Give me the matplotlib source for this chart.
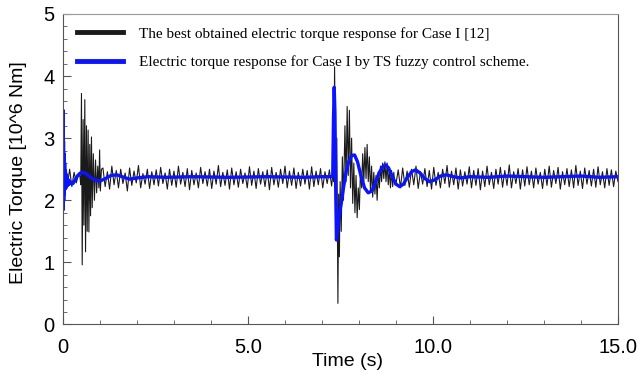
import numpy as np
import matplotlib.pyplot as plt
from matplotlib.ticker import MultipleLocator, FixedLocator

plt.rcParams.update({
    "font.family": "Liberation Sans",
    "font.size": 12,
})

# --- black: best obtained response [12] ---
step = 0.06
ripple_a = [2.35, 2.45, 2.25, 2.50, 2.22, 2.45, 2.28, 2.42]  # 0.00 .. 0.42

trans1_t = [0.46, 0.48, 0.50, 0.52, 0.545, 0.565, 0.59, 0.61, 0.635, 0.655,
            0.68, 0.70, 0.725, 0.745, 0.77, 0.79, 0.82, 0.85, 0.88, 0.91,
            0.94, 0.97, 0.99, 1.01, 1.04]
trans1_v = [2.38, 2.25, 3.72, 0.96, 3.30, 1.60, 3.62, 1.17, 3.20, 1.50,
            3.13, 1.49, 2.90, 1.75, 3.02, 1.88, 2.75, 2.00, 2.65, 2.12,
            2.55, 2.20, 2.81, 2.15, 2.50]

ripple_b = [  # 1.08 .. 7.26
    2.52, 2.22, 2.46, 2.18, 2.55, 2.25, 2.48, 2.20,
    2.50, 2.27, 2.44, 2.15, 2.52, 2.24, 2.47, 2.28,
    2.56, 2.20, 2.43, 2.26, 2.50, 2.19, 2.46, 2.25,
    2.49, 2.23, 2.53, 2.27, 2.44, 2.18, 2.50, 2.24,
    2.47, 2.21, 2.55, 2.26, 2.45, 2.22, 2.51, 2.17,
    2.48, 2.25, 2.44, 2.20, 2.53, 2.27, 2.46, 2.23,
    2.50, 2.19, 2.47, 2.26, 2.56, 2.22, 2.45, 2.24,
    2.49, 2.18, 2.52, 2.25, 2.46, 2.21, 2.50, 2.27,
    2.44, 2.20, 2.54, 2.24, 2.47, 2.19, 2.51, 2.26,
    2.46, 2.22, 2.49, 2.17, 2.53, 2.25, 2.45, 2.21,
    2.50, 2.27, 2.55, 2.20, 2.47, 2.24, 2.52, 2.19,
    2.45, 2.23, 2.50, 2.26, 2.48, 2.18, 2.54, 2.22,
    2.47, 2.25, 2.51, 2.20, 2.46, 2.27, 2.49, 2.23,
]

trans2_t = [7.30, 7.32, 7.34, 7.36, 7.38, 7.40, 7.43, 7.45, 7.47, 7.49,
            7.52, 7.55, 7.58, 7.62, 7.65, 7.68, 7.71, 7.74, 7.77, 7.80,
            7.83, 7.86, 7.89, 7.92, 7.95, 7.98, 8.01, 8.04, 8.07, 8.10,
            8.13, 8.16, 8.19, 8.22, 8.25, 8.28, 8.31, 8.34, 8.37, 8.40,
            8.43, 8.46, 8.49, 8.52, 8.55, 8.58, 8.61, 8.64, 8.67, 8.70,
            8.73, 8.76, 8.79, 8.82, 8.85, 8.88, 8.91, 8.94, 8.97]
trans2_v = [2.45, 2.30, 4.15, 2.80, 1.90, 3.00, 0.34, 2.10, 1.09, 2.30,
            1.50, 2.70, 2.00, 3.20, 2.30, 3.51, 2.40, 3.45, 2.20, 3.00,
            1.95, 2.60, 1.80, 2.40, 1.72, 2.20, 1.85, 2.50, 2.20, 2.75,
            2.30, 2.85, 2.35, 2.90, 2.30, 2.70, 2.15, 2.55, 2.05, 2.45,
            2.10, 2.40, 2.00, 2.45, 2.20, 2.55, 2.30, 2.60, 2.35, 2.62,
            2.30, 2.60, 2.25, 2.50, 2.20, 2.48, 2.22, 2.45, 2.25]

ripple_c = [  # 9.00 .. 15.00
    2.27, 2.49, 2.20, 2.52, 2.24, 2.47, 2.21, 2.50,
    2.25, 2.55, 2.19, 2.46, 2.26, 2.51, 2.22, 2.48,
    2.18, 2.53, 2.24, 2.45, 2.20, 2.50, 2.27, 2.56,
    2.21, 2.47, 2.25, 2.52, 2.18, 2.49, 2.23, 2.46,
    2.26, 2.54, 2.20, 2.48, 2.24, 2.51, 2.17, 2.47,
    2.22, 2.55, 2.25, 2.45, 2.19, 2.50, 2.26, 2.53,
    2.21, 2.48, 2.24, 2.57, 2.20, 2.46, 2.27, 2.51,
    2.18, 2.49, 2.23, 2.54, 2.25, 2.47, 2.20, 2.52,
    2.26, 2.45, 2.19, 2.50, 2.24, 2.55, 2.21, 2.48,
    2.27, 2.53, 2.18, 2.46, 2.25, 2.51, 2.22, 2.49,
    2.20, 2.56, 2.24, 2.47, 2.19, 2.52, 2.26, 2.48,
    2.23, 2.50, 2.21, 2.54, 2.25, 2.46, 2.20, 2.51,
    2.24, 2.49, 2.22, 2.47, 2.30,
]

# --- blue: TS fuzzy control scheme ---
blue_t = [0.0, 0.003, 0.008, 0.014, 0.02, 0.027, 0.035, 0.045, 0.055, 0.065,
          0.075, 0.085, 0.095, 0.105, 0.115, 0.125, 0.14, 0.155, 0.17, 0.19,
          0.22, 0.27, 0.33, 0.40, 0.47, 0.54, 0.62, 0.72, 0.85, 1.0,
          1.15, 1.3, 1.45, 1.6, 1.8, 2.0, 2.3, 2.8, 3.5, 4.5,
          5.5, 6.5, 7.0, 7.29, 7.31, 7.33, 7.35, 7.37, 7.39, 7.42,
          7.46, 7.52, 7.58, 7.65, 7.72, 7.80, 7.88, 7.96, 8.05, 8.15,
          8.25, 8.35, 8.45, 8.55, 8.65, 8.72, 8.80, 8.90, 9.00, 9.10,
          9.20, 9.30, 9.42, 9.53, 9.65, 9.78, 9.91, 10.05, 10.2, 10.36,
          10.55, 10.75, 11.0, 11.5, 12.0, 12.5, 13.0, 13.5, 14.0, 14.5, 15.0]
blue_v = [2.35, 3.45, 1.85, 2.95, 2.00, 2.75, 2.10, 2.60, 2.18, 2.48,
          2.20, 2.42, 2.22, 2.38, 2.24, 2.35, 2.25, 2.32, 2.26, 2.30,
          2.27, 2.27, 2.33, 2.40, 2.44, 2.45, 2.43, 2.38, 2.33, 2.31,
          2.35, 2.40, 2.41, 2.38, 2.34, 2.36, 2.38, 2.37, 2.38, 2.37,
          2.38, 2.37, 2.38, 2.38, 3.30, 3.82, 3.40, 2.20, 1.36, 1.50,
          1.75, 1.95, 2.20, 2.45, 2.62, 2.72, 2.73, 2.62, 2.40, 2.20,
          2.12, 2.15, 2.30, 2.45, 2.55, 2.57, 2.52, 2.38, 2.26, 2.22,
          2.26, 2.36, 2.46, 2.49, 2.44, 2.35, 2.30, 2.33, 2.39, 2.41,
          2.38, 2.36, 2.38, 2.37, 2.39, 2.38, 2.37, 2.38, 2.39, 2.37, 2.38]

black_t = np.concatenate([
    0.0 + step * np.arange(len(ripple_a)),
    trans1_t,
    1.08 + step * np.arange(len(ripple_b)),
    trans2_t,
    9.0 + step * np.arange(len(ripple_c)),
])
black_v = np.concatenate([ripple_a, trans1_v, ripple_b, trans2_v, ripple_c])

fig = plt.figure(figsize=(6.38, 3.74), dpi=100)
ax = fig.add_axes([0.0987, 0.1324, 0.87, 0.8302])

ax.plot(black_t, black_v, color="#1a1a1a", lw=0.8,
        label="The best obtained electric torque response for Case I [12]")
ax.plot(blue_t, blue_v, color="#0a14ff", lw=2.4,
        label="Electric torque response for Case I by TS fuzzy control scheme.")

ax.set_xlim(0, 15)
ax.set_ylim(0, 5)
ax.xaxis.set_major_locator(FixedLocator([0, 5, 10, 15]))
ax.set_xticklabels(["0", "5.0", "10.0", "15.0"])
ax.xaxis.set_minor_locator(MultipleLocator(1))
ax.yaxis.set_major_locator(MultipleLocator(1))
ax.yaxis.set_minor_locator(MultipleLocator(0.2))
ax.tick_params(which="both", direction="in", color="#555555")
ax.tick_params(axis="x", which="major", length=6, pad=10, labelsize=14.5)
ax.tick_params(axis="y", which="major", length=6, pad=6, labelsize=14.5)
ax.tick_params(which="minor", length=3)

for side in ["left", "bottom", "right"]:
    ax.spines[side].set_color("#555555")
ax.spines["top"].set_color("#999999")

ax.set_xlabel("Time (s)", fontsize=14, va="top")
ax.xaxis.set_label_coords(0.512, -0.092)
ax.set_ylabel("Electric Torque [10^6 Nm]", fontsize=14)
ax.yaxis.set_label_coords(-0.065, 0.49)

leg = ax.legend(loc="upper left", bbox_to_anchor=(0.025, 0.958), frameon=False,
                prop={"family": "Liberation Serif", "size": 11},
                handlelength=3.0, handletextpad=1.05, labelspacing=0.95,
                borderpad=0, borderaxespad=0)
for h in leg.get_lines():
    h.set_linewidth(3.5)

fig.savefig("out.png", dpi=100)
